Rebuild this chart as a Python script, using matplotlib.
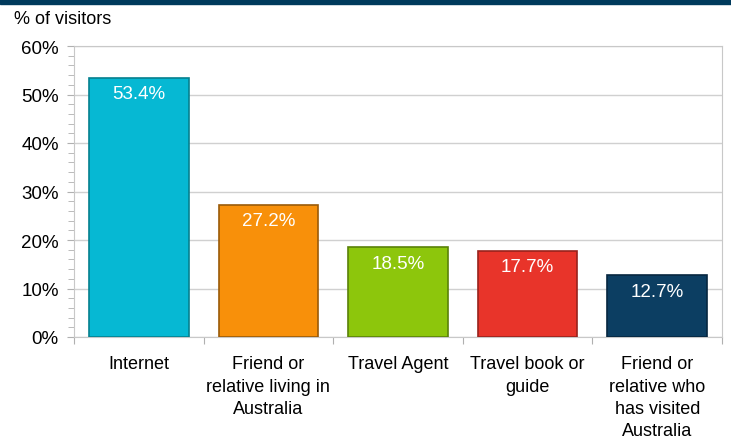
import matplotlib
matplotlib.use("Agg")
import matplotlib.pyplot as plt
import numpy as np
from matplotlib.ticker import MultipleLocator, FuncFormatter

plt.rcParams['font.family'] = ['Liberation Sans', 'DejaVu Sans']

categories = ["Internet", "Friend or\nrelative living in\nAustralia", "Travel Agent",
              "Travel book or\nguide", "Friend or\nrelative who\nhas visited\nAustralia"]
values = [53.4, 27.2, 18.5, 17.7, 12.7]
colors = ["#06B8D3", "#F8900A", "#8DC60C", "#E8342A", "#0C3E62"]
edges = ["#05808F", "#9A5A08", "#5A8208", "#98221C", "#062640"]

W, H = 731, 439
fig = plt.figure(figsize=(W / 100, H / 100), dpi=100)

# dark band across the top
fig.patches.append(plt.Rectangle((0, 1 - 5 / H), 1, 5 / H, transform=fig.transFigure,
                                 color="#003A5C", zorder=0))

ax = fig.add_axes([74 / W, (H - 338) / H, 648 / W, 291 / H])
x = np.arange(len(categories))
bars = ax.bar(x, values, width=0.77, color=colors, edgecolor=edges, linewidth=1.2, zorder=3)

for b, v in zip(bars, values):
    ax.text(b.get_x() + b.get_width() / 2, v - 1.5, f"{v:.1f}%", ha="center", va="top",
            color="white", fontsize=13.5, zorder=4)

ax.set_xlim(-0.5, len(categories) - 0.5)
ax.set_ylim(0, 60)
ax.yaxis.set_major_locator(MultipleLocator(10))
ax.yaxis.set_minor_locator(MultipleLocator(2))
ax.yaxis.set_major_formatter(FuncFormatter(lambda v, p: f"{v:.0f}%"))
ax.grid(axis="y", which="major", color="#D0D0D0", linewidth=1, zorder=0)

ax.set_xticks(np.arange(len(categories) + 1) - 0.5, minor=False)
ax.set_xticklabels([])
ax.set_xticks(x, minor=True)
ax.set_xticklabels(categories, minor=True, fontsize=13, linespacing=1.42, va="top")
ax.tick_params(axis="x", which="minor", length=0, pad=13)
ax.tick_params(axis="x", which="major", length=5, color="#B0B0B0")
ax.tick_params(axis="y", which="major", length=5, color="#B0B0B0", labelsize=13.5, pad=6)
ax.tick_params(axis="y", which="minor", length=4, color="#B0B0B0")

for s in ax.spines.values():
    s.set_color("#C8C8C8")

fig.text(14 / W, 1 - 19 / H, "% of visitors", fontsize=13, va="center", ha="left")

fig.savefig("out.png", dpi=100)
